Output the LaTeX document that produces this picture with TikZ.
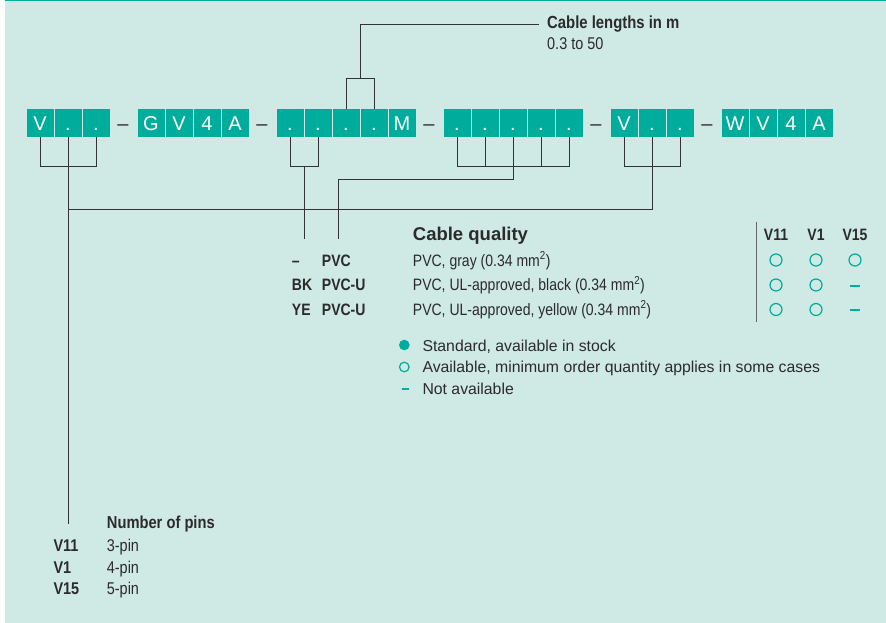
\documentclass[tikz,border=0pt]{standalone}
\usepackage{fontspec}
\setmainfont{Liberation Sans}
\newfontfamily\cond[FakeStretch=0.85]{Liberation Sans}
\usetikzlibrary{calc}
\definecolor{tealbox}{HTML}{00AC9B}
\definecolor{bgmint}{HTML}{CFE9E5}
\definecolor{ink}{HTML}{2B2B2B}
\definecolor{wire}{HTML}{333333}
\definecolor{rule}{HTML}{666666}
\begin{document}
\begin{tikzpicture}[x=1pt,y=-1pt,
  cell/.style={fill=tealbox,text=white,minimum width=27pt,minimum height=28pt,inner sep=0pt,
    text height=14.4pt,text depth=0pt,font=\fontsize{20}{20}\selectfont},
  sepdash/.style={text=ink,inner sep=0pt,minimum height=28pt,text height=14.4pt,text depth=0pt,
    font=\fontsize{20}{20}\selectfont},
  wireline/.style={draw=wire,line width=1pt},
  lbl/.style={anchor=base west,inner sep=0pt,text=ink},
  hdr/.style={anchor=base,inner sep=0pt,text=ink,font=\cond\bfseries\fontsize{16.5}{16.5}\selectfont},
  opencirc/.style={circle,draw=tealbox,line width=1.2pt,minimum size=12pt,inner sep=0pt},
  fullcirc/.style={circle,fill=tealbox,minimum size=10.6pt,inner sep=0pt},
  tdash/.style={draw=tealbox,line width=2pt}
]
\useasboundingbox (0,0) rectangle (886,623);
\fill[bgmint] (5,0) rectangle (886,623);
\fill[tealbox] (5,0) rectangle (886,1.5);

% code boxes
\foreach \n/\x/\t in {v1/40/V,v2/68/.,v3/96/.,
  g1/151/G,g2/179/V,g3/207/4,g4/235/A,
  c1/290/.,c2/318/.,c3/346/.,c4/374/.,c5/402/M,
  q1/457/.,q2/485/.,q3/513/.,q4/541/.,q5/569/.,
  p1/624/V,p2/652/.,p3/680/.,
  w1/735/W,w2/763/V,w3/791/4,w4/819/A}
  \node[cell] (\n) at (\x,123) {\t};
\foreach \n/\x in {d1/123,d2/262,d3/429,d4/596,d5/707}
  \node[sepdash] (\n) at (\x,123) {–};

% free ends
\coordinate (lenend) at (539,24.7);
\coordinate (cqA) at (304,239);
\coordinate (cqB) at (338,239);
\coordinate (pinsend) at (68,524);

% connectors
\draw[wireline] (v1.south) -- ++(0,29) -| (v3.south);
\draw[wireline] (v2.south) -- (pinsend);
\draw[wireline] (p1.south) -- ++(0,29) -| (p3.south);
\draw[wireline] (p2.south) |- (v2.south |- 0,209);
\draw[wireline] (c1.south) -- ++(0,29) -| (c2.south);
\draw[wireline] ($(c1.south)!0.5!(c2.south)+(0,29)$) -- (cqA);
\draw[wireline] (q1.south) -- ++(0,29) -| (q5.south);
\draw[wireline] (q2.south) -- ++(0,29);
\draw[wireline] (q4.south) -- ++(0,29);
\draw[wireline] (q3.south) |- (cqB |- 0,179) -- (cqB);
\draw[wireline] (c3.north) -- ++(0,-30) -| (c4.north);
\draw[wireline] ($(c3.north)!0.5!(c4.north)+(0,-30)$) |- (lenend);

% cable lengths
\node[lbl,font=\cond\bfseries\fontsize{17.5}{17.5}\selectfont] (lenhead) at (547,28.3) {Cable lengths in m};
\node[lbl,font=\cond\fontsize{17}{17}\selectfont] (lenval) at (547,49.3) {0.3 to 50};

% cable quality
\node[lbl,font=\bfseries\fontsize{18.5}{18.5}\selectfont] (cqhead) at (412.7,240.5) {Cable quality};
\foreach \n/\y/\a/\b/\d in {r1/266/–/PVC/{PVC, gray (0.34 mm\textsuperscript{2})},
  r2/290.5/BK/PVC-U/{PVC, UL-approved, black (0.34 mm\textsuperscript{2})},
  r3/315/YE/PVC-U/{PVC, UL-approved, yellow (0.34 mm\textsuperscript{2})}}{
  \node[lbl,font=\cond\bfseries\fontsize{16.5}{16.5}\selectfont] (\n a) at (291.7,\y) {\a};
  \node[lbl,font=\cond\bfseries\fontsize{16.5}{16.5}\selectfont] (\n b) at (321.7,\y) {\b};
  \node[lbl,font=\cond\fontsize{16.5}{16.5}\selectfont] (\n d) at (412.7,\y) {\d};
}

% availability table
\coordinate (rtop) at (756.7,221.7);
\coordinate (rbot) at (756.7,321.7);
\draw[draw=rule,line width=1.3pt] (rtop) -- (rbot);
\node[hdr] (h1) at (776,240) {V11};
\node[hdr] (h2) at (816,240) {V1};
\node[hdr] (h3) at (855,240) {V15};
\node[opencirc] (t11) at (776,260) {};
\node[opencirc] (t12) at (816,260) {};
\node[opencirc] (t13) at (855,260) {};
\node[opencirc] (t21) at (776,285) {};
\node[opencirc] (t22) at (816,285) {};
\node[opencirc] (t31) at (776,309.5) {};
\node[opencirc] (t32) at (816,309.5) {};
\draw[tdash] (850.4,286) -- (859.6,286);
\draw[tdash] (850.4,310) -- (859.6,310);

% legend
\node[fullcirc] (lg1) at (404.3,345) {};
\node[opencirc,minimum size=9.6pt] (lg2) at (404.3,367) {};
\draw[tdash] (401.7,389) -- (409.3,389);
\node[lbl,font=\fontsize{15.8}{15.8}\selectfont] (lt1) at (422.3,351) {Standard, available in stock};
\node[lbl,font=\fontsize{15.8}{15.8}\selectfont] (lt2) at (422.3,372.7) {Available, minimum order quantity applies in some cases};
\node[lbl,font=\fontsize{15.8}{15.8}\selectfont] (lt3) at (422.3,394) {Not available};

% number of pins
\node[lbl,font=\cond\bfseries\fontsize{17.3}{17.3}\selectfont] (pinhead) at (106.7,528.3) {Number of pins};
\foreach \n/\y/\a/\b in {s1/551.7/V11/3-pin,s2/573.3/V1/4-pin,s3/594.3/V15/5-pin}{
  \node[lbl,font=\cond\bfseries\fontsize{17}{17}\selectfont] (\n a) at (53.3,\y) {\a};
  \node[lbl,font=\cond\fontsize{17}{17}\selectfont] (\n b) at (106.7,\y) {\b};
}
\end{tikzpicture}
\end{document}
